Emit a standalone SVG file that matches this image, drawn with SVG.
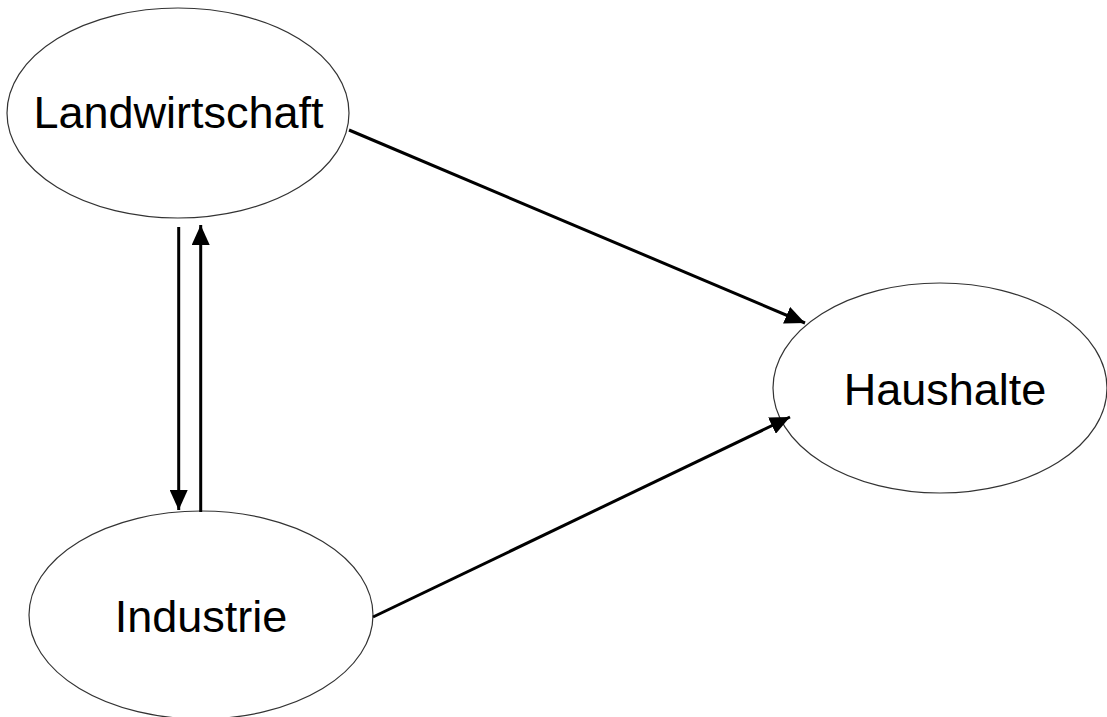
<svg xmlns="http://www.w3.org/2000/svg" width="1107" height="717" viewBox="0 0 1107 717">
<style>
.node ellipse{fill:#fff;stroke:#333;stroke-width:1.2}
.node text{font-family:"Liberation Sans",Arial,sans-serif;font-size:45px;fill:#000;text-anchor:middle}
.edge{stroke:#000;stroke-width:3;fill:none;marker-end:url(#ah)}
</style>
<defs>
<marker id="ah" markerUnits="userSpaceOnUse" markerWidth="20" markerHeight="18" viewBox="0 0 20 18" refX="20" refY="9" orient="auto">
<path d="M0,0 L20,9 L0,18 Z" fill="#000"/>
</marker>
</defs>
<rect width="1107" height="717" fill="#fff"/>
<g id="landwirtschaft" class="node">
<ellipse cx="178" cy="113" rx="171" ry="105"/>
<text x="178.5" y="128">Landwirtschaft</text>
</g>
<g id="haushalte" class="node">
<ellipse cx="940" cy="388" rx="167" ry="105"/>
<text x="945" y="405">Haushalte</text>
</g>
<g id="industrie" class="node">
<ellipse cx="201" cy="615" rx="172" ry="104"/>
<text x="201" y="632">Industrie</text>
</g>
<g id="connectors">
<line class="edge" x1="178.7" y1="227" x2="178.7" y2="510"/>
<line class="edge" x1="200.7" y1="512" x2="200.7" y2="225"/>
<line class="edge" x1="349" y1="130" x2="805" y2="323"/>
<line class="edge" x1="373" y1="617" x2="790" y2="417"/>
</g>
</svg>
